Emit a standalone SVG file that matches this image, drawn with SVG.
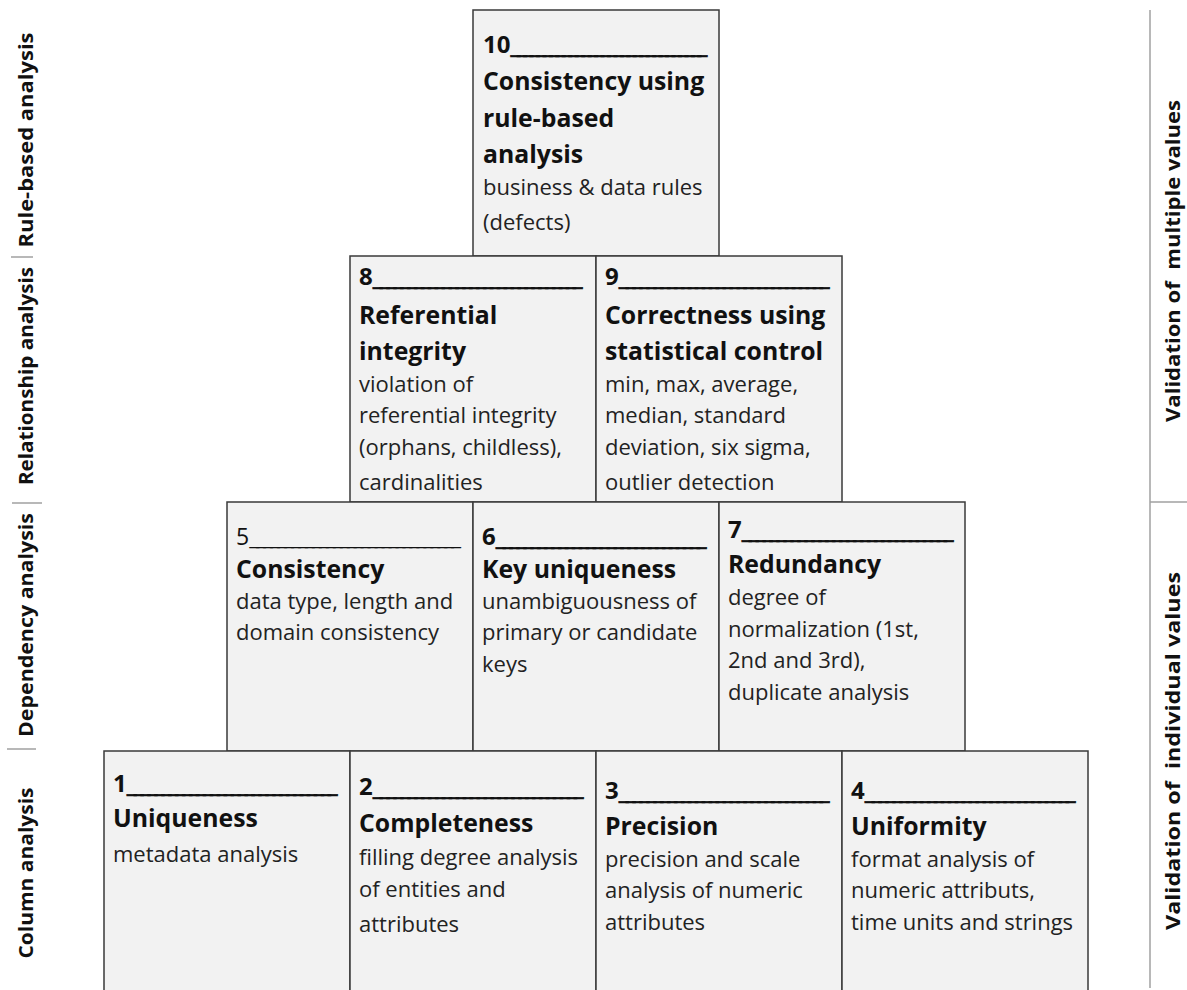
<svg xmlns="http://www.w3.org/2000/svg" width="1187" height="990" viewBox="0 0 1187 990">
<style>
.box{fill:#f2f2f2;stroke:#3a3a3a;stroke-width:1.5}
.num{font-family:"Open Sans","Liberation Sans",sans-serif;font-weight:bold;font-size:24px;fill:#111}
.numr{font-family:"Open Sans","Liberation Sans",sans-serif;font-size:23px;fill:#111}
.ul{stroke:#111;stroke-width:0.6}
.ttl{font-family:"Open Sans","Liberation Sans",sans-serif;font-weight:bold;font-size:24.8px;fill:#111}
.body{font-family:"Open Sans","Liberation Sans",sans-serif;font-size:22px;fill:#222}
.side{font-family:"Open Sans","Liberation Sans",sans-serif;font-weight:bold;font-size:20px;fill:#111;text-anchor:middle}
.sep{stroke:#a0a0a0;stroke-width:1.5}
</style>
<rect width="1187" height="990" fill="#ffffff"/>
<g id="side-left">
<text class="side" transform="translate(33,140) rotate(-90)" textLength="215" lengthAdjust="spacingAndGlyphs">Rule-based analysis</text>
<text class="side" transform="translate(33,376) rotate(-90)" textLength="218" lengthAdjust="spacingAndGlyphs">Relationship analysis</text>
<text class="side" transform="translate(33,625) rotate(-90)" textLength="224" lengthAdjust="spacingAndGlyphs">Dependency analysis</text>
<text class="side" transform="translate(33,873) rotate(-90)" textLength="171" lengthAdjust="spacingAndGlyphs">Column analysis</text>
<line class="sep" x1="11" y1="257" x2="33" y2="257"/>
<line class="sep" x1="12" y1="503" x2="42" y2="503"/>
<line class="sep" x1="7" y1="749" x2="36" y2="749"/>
</g>
<g id="side-right">
<line class="sep" x1="1150" y1="10" x2="1150" y2="988"/>
<line class="sep" x1="1150" y1="502" x2="1187" y2="502"/>
<text class="side" style="white-space:pre" transform="translate(1180,261) rotate(-90)" textLength="322" lengthAdjust="spacingAndGlyphs">Validation of  multiple values</text>
<text class="side" style="white-space:pre" transform="translate(1180,751) rotate(-90)" textLength="358" lengthAdjust="spacingAndGlyphs">Validation of  individual values</text>
</g>
<g id="box10">
<rect class="box" x="473" y="10" width="246" height="246"/>
<text class="num" x="483" y="53">10<tspan class="ul" textLength="197" lengthAdjust="spacing">______________________________</tspan></text>
<text class="ttl" x="483" y="90">Consistency using</text>
<text class="ttl" x="483" y="127">rule-based</text>
<text class="ttl" x="483" y="163">analysis</text>
<text class="body" x="483" y="195">business &amp; data rules</text>
<text class="body" x="483" y="230">(defects)</text>
</g>
<g id="box8">
<rect class="box" x="350" y="256" width="246" height="246"/>
<text class="num" x="359" y="285">8<tspan class="ul" textLength="210" lengthAdjust="spacing">______________________________</tspan></text>
<text class="ttl" x="359" y="324">Referential</text>
<text class="ttl" x="359" y="360">integrity</text>
<text class="body" x="359" y="392">violation of</text>
<text class="body" x="359" y="423">referential integrity</text>
<text class="body" x="359" y="455">(orphans, childless),</text>
<text class="body" x="359" y="490">cardinalities</text>
</g>
<g id="box9">
<rect class="box" x="596" y="256" width="246" height="246"/>
<text class="num" x="605" y="285">9<tspan class="ul" textLength="211" lengthAdjust="spacing">______________________________</tspan></text>
<text class="ttl" x="605" y="324">Correctness using</text>
<text class="ttl" x="605" y="360">statistical control</text>
<text class="body" x="605" y="392">min, max, average,</text>
<text class="body" x="605" y="423">median, standard</text>
<text class="body" x="605" y="455">deviation, six sigma,</text>
<text class="body" x="605" y="490">outlier detection</text>
</g>
<g id="box5">
<rect class="box" x="227" y="502" width="246" height="249"/>
<text class="numr" x="236" y="545">5<tspan textLength="212" lengthAdjust="spacing">______________________________</tspan></text>
<text class="ttl" x="236" y="578">Consistency</text>
<text class="body" x="236" y="609">data type, length and</text>
<text class="body" x="236" y="640">domain consistency</text>
</g>
<g id="box6">
<rect class="box" x="473" y="502" width="246" height="249"/>
<text class="num" x="482" y="545">6<tspan class="ul" textLength="211" lengthAdjust="spacing">______________________________</tspan></text>
<text class="ttl" x="482" y="578">Key uniqueness</text>
<text class="body" x="482" y="609">unambiguousness of</text>
<text class="body" x="482" y="640">primary or candidate</text>
<text class="body" x="482" y="672">keys</text>
</g>
<g id="box7">
<rect class="box" x="719" y="502" width="246" height="249"/>
<text class="num" x="728" y="538">7<tspan class="ul" textLength="212" lengthAdjust="spacing">______________________________</tspan></text>
<text class="ttl" x="728" y="573">Redundancy</text>
<text class="body" x="728" y="605">degree of</text>
<text class="body" x="728" y="637">normalization (1st,</text>
<text class="body" x="728" y="668">2nd and 3rd),</text>
<text class="body" x="728" y="700">duplicate analysis</text>
</g>
<g id="box1">
<rect class="box" x="104" y="751" width="246" height="250"/>
<text class="num" x="113" y="792">1<tspan class="ul" textLength="211" lengthAdjust="spacing">______________________________</tspan></text>
<text class="ttl" x="113" y="827">Uniqueness</text>
<text class="body" x="113" y="862">metadata analysis</text>
</g>
<g id="box2">
<rect class="box" x="350" y="751" width="246" height="250"/>
<text class="num" x="359" y="795">2<tspan class="ul" textLength="211" lengthAdjust="spacing">______________________________</tspan></text>
<text class="ttl" x="359" y="832">Completeness</text>
<text class="body" x="359" y="865">filling degree analysis</text>
<text class="body" x="359" y="897">of entities and</text>
<text class="body" x="359" y="932">attributes</text>
</g>
<g id="box3">
<rect class="box" x="596" y="751" width="246" height="250"/>
<text class="num" x="605" y="799">3<tspan class="ul" textLength="211" lengthAdjust="spacing">______________________________</tspan></text>
<text class="ttl" x="605" y="835">Precision</text>
<text class="body" x="605" y="867">precision and scale</text>
<text class="body" x="605" y="898">analysis of numeric</text>
<text class="body" x="605" y="930">attributes</text>
</g>
<g id="box4">
<rect class="box" x="842" y="751" width="246" height="250"/>
<text class="num" x="851" y="799">4<tspan class="ul" textLength="211" lengthAdjust="spacing">______________________________</tspan></text>
<text class="ttl" x="851" y="835">Uniformity</text>
<text class="body" x="851" y="867">format analysis of</text>
<text class="body" x="851" y="898">numeric attributs,</text>
<text class="body" x="851" y="930">time units and strings</text>
</g>
</svg>
